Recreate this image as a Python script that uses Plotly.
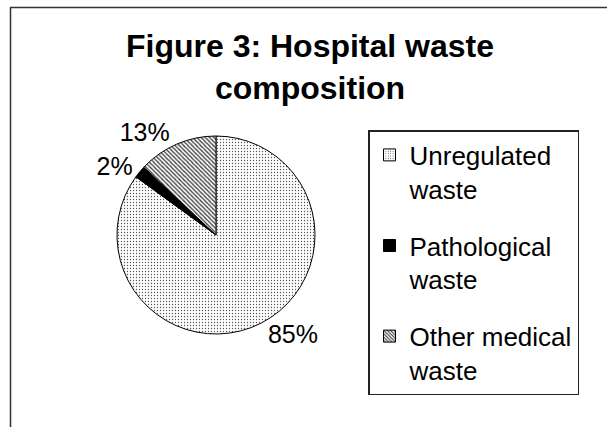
import plotly.graph_objects as go

# Data
categories = ["Unregulated waste", "Pathological waste", "Other medical waste"]
legend_labels = ["Unregulated<br>waste", "Pathological<br>waste", "Other medical<br>waste"]
values = [85, 2, 13]

W, H = 607, 427
FONT = "Liberation Sans, Arial, sans-serif"

# styles per slice
shapes_ = [".", "", "\\"]
fgcols = ["#555555", "black", "#444444"]
bgcols = ["white", "black", "white"]
psizes = [3, 4, 3]
solid = [0.15, 0.5, 0.45]

# pie geometry (pixels)
cx, cy, r = 216, 235, 99

fig = go.Figure()
fig.add_trace(go.Pie(
    labels=categories,
    values=values,
    sort=False,
    direction="clockwise",
    rotation=0,
    textinfo="percent",
    textposition="outside",
    outsidetextfont=dict(family=FONT, size=25, color="black"),
    marker=dict(
        colors=bgcols,
        line=dict(color="black", width=1),
        pattern=dict(shape=shapes_, fgcolor=fgcols, bgcolor=bgcols,
                     size=psizes, solidity=solid, fillmode="replace"),
    ),
    domain=dict(x=[(cx - r) / W, (cx + r) / W], y=[1 - (cy + r) / H, 1 - (cy - r) / H]),
    showlegend=False,
    hoverinfo="label+percent",
))

# legend entries (one per category, grouped so a gap separates them)
for i, name in enumerate(legend_labels):
    fig.add_trace(go.Bar(
        x=[None], y=[None], name=name, legendgroup=f"g{i}",
        marker=dict(color=bgcols[i], line=dict(color="black", width=1),
                    pattern=dict(shape=shapes_[i], fgcolor=fgcols[i], bgcolor=bgcols[i],
                                 size=psizes[i], solidity=solid[i], fillmode="replace")),
        hoverinfo="skip",
    ))

fig.update_layout(
    width=W, height=H,
    margin=dict(l=0, r=0, t=0, b=0),
    paper_bgcolor="white",
    plot_bgcolor="white",
    font=dict(family=FONT, color="black"),
    xaxis=dict(visible=False),
    yaxis=dict(visible=False),
    title=dict(
        text="<b>Figure 3: Hospital waste<br>composition</b>",
        x=310 / W, xanchor="center",
        y=1 - 57 / H, yanchor="top",
        font=dict(family=FONT, size=32, color="black"),
    ),
    showlegend=True,
    legend=dict(
        x=368 / W, y=1 - 130 / H, xanchor="left", yanchor="top",
        bordercolor="#222222", borderwidth=1.5, bgcolor="white",
        font=dict(family=FONT, size=26, color="black"),
        valign="top",
        traceorder="grouped",
        tracegroupgap=20,
    ),
    shapes=[
        dict(type="line", xref="paper", yref="paper",
             x0=10 / W, x1=1.01, y0=1 - 7.5 / H, y1=1 - 7.5 / H,
             line=dict(color="#333333", width=1.5)),
        dict(type="line", xref="paper", yref="paper",
             x0=10.5 / W, x1=10.5 / W, y0=1 - 7.5 / H, y1=-0.01,
             line=dict(color="#333333", width=1.5)),
    ],
)

fig.write_html("out.html", config={"displayModeBar": False},
               post_script="document.body.style.margin='0';")
